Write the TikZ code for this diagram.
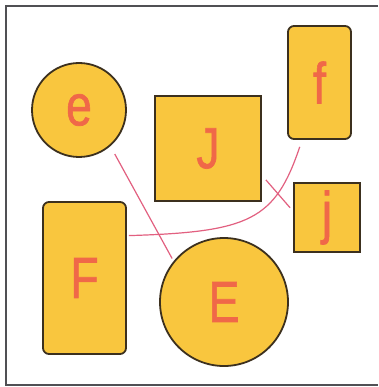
\documentclass[tikz,border=0pt]{standalone}
\usepackage{fontspec}
\setmainfont{Liberation Sans}
\newfontfamily\letterfont[FakeBold=1.2]{Liberation Sans}
\usepackage{graphicx}
\definecolor{boxfill}{RGB}{249,198,62}
\definecolor{boxline}{RGB}{60,48,30}
\definecolor{letter}{RGB}{240,104,72}
\definecolor{edge}{RGB}{226,96,128}
\definecolor{frame}{RGB}{80,80,84}
\tikzset{
  shapebox/.style={draw=boxline, fill=boxfill, line width=1.8pt, inner sep=0pt,
    text=letter, font=\letterfont\fontsize{58}{58}\selectfont},
  roundbox/.style={shapebox, rectangle, rounded corners=6pt},
  squarebox/.style={shapebox, rectangle},
  roundnode/.style={shapebox, circle},
  link/.style={draw=edge, line width=1.2pt}
}
\newcommand{\lt}[1]{\scalebox{0.8}[1]{#1}}
\begin{document}
\begin{tikzpicture}[x=1pt,y=-1pt]
\useasboundingbox (0,0) rectangle (378,387);
\fill[white] (0,0) rectangle (378,387);
\draw[frame, line width=2pt] (378,6) -- (6,6) -- (6,385) -- (378,385);

\node[roundnode, minimum size=94pt] (e) at (79,110) {\raisebox{-3pt}{\lt{e}}};
\node[squarebox, minimum width=106pt, minimum height=105pt] (J) at (208,148.5) {\lt{J}};
\node[roundbox, minimum width=63pt, minimum height=113pt] (f) at (319.5,82.5) {\lt{f}};
\node[squarebox, minimum width=66pt, minimum height=69pt] (j) at (327,217.5) {\lt{j}};
\node[roundbox, minimum width=83pt, minimum height=152pt] (F) at (84.5,278) {\lt{F}};
\node[roundnode, minimum size=128pt] (E) at (224,302) {\raisebox{-3pt}{\lt{E}}};

\draw[link, shorten <=9pt, shorten >=3pt] (e.-49) -- (E.141);
\draw[link] ([shift={(4,-1)}]J.-31) -- ([shift={(-3,0)}]j.164);
\draw[link] ([shift={(2,0)}]F.45) .. controls (250,232) and (275,220) .. ([shift={(0,7)}]f.-109);
\end{tikzpicture}
\end{document}
